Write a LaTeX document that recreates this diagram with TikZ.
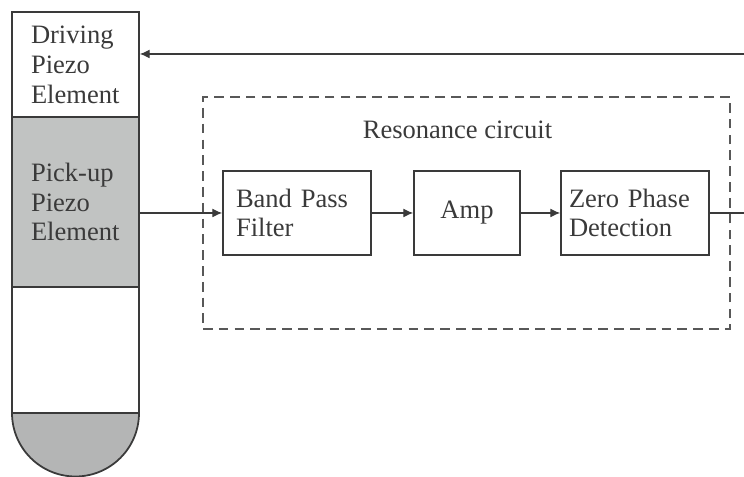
\documentclass[tikz,border=0pt]{standalone}
\usepackage{fontspec}
\usetikzlibrary{arrows.meta}
\setmainfont{Liberation Serif}
\definecolor{inkgray}{HTML}{3A3A3A}
\definecolor{pickgray}{HTML}{C1C3C2}
\definecolor{capgray}{HTML}{B4B5B5}
\tikzset{
    label text/.style={text=inkgray, font=\fontsize{15.1}{17}\selectfont},
    tube part/.style={label text, draw=inkgray, line width=1pt, minimum width=2.54cm, inner xsep=0.38cm, text width=1.78cm, align=left},
    circuit box/.style={label text, draw=inkgray, line width=1pt, minimum height=1.68cm, align=left},
    signal/.style={inkgray, line width=0.6pt, -{Latex[length=5.5pt, width=5pt]}}
}
\begin{document}
\begin{tikzpicture}
            \useasboundingbox (0, 0) rectangle (14.88, 9.54);
            \node[draw=inkgray!85, line width=0.6pt, dash pattern=on 5.5pt off 3.5pt, minimum width=10.54cm, minimum height=4.64cm] (circuit) at (9.33, 5.28) {};
            \node[label text] (circuitlabel) at (9.15, 6.94) {Resonance circuit};
            \node[tube part, minimum height=2.1cm] (driving) at (1.51, 8.25) {Driving\\Piezo\\Element};
            \node[tube part, fill=pickgray, minimum height=3.4cm] (pickup) at (1.51, 5.5) {Pick-up\\Piezo\\Element};
            \node[tube part, minimum height=2.52cm] (blank) at (1.51, 2.54) {};
            \filldraw[draw=inkgray, fill=capgray, line width=1pt] (0.24, 1.28) arc (180:360:1.27) -- cycle;
            \node[circuit box, minimum width=2.96cm, inner xsep=0.26cm, text width=2.44cm] (band) at (5.94, 5.28) {Band Pass\\Filter};
            \node[circuit box, minimum width=2.12cm] (amp) at (9.34, 5.28) {Amp};
            \node[circuit box, minimum width=2.96cm, inner xsep=0.16cm, text width=2.64cm] (zero) at (12.7, 5.28) {Zero Phase\\Detection};
            \coordinate (feedback) at (14.88, 8.46);
            \coordinate (output) at (14.88, 5.28);
            \draw[signal] (pickup.east |- band.west)--(band.west);
            \draw[signal] (band.east)--(amp.west);
            \draw[signal] (amp.east)--(zero.west);
            \draw[inkgray, line width=0.6pt] (zero.east)--(output);
            \draw[signal] (feedback)--(driving.east |- feedback);
        \end{tikzpicture}
\end{document}
